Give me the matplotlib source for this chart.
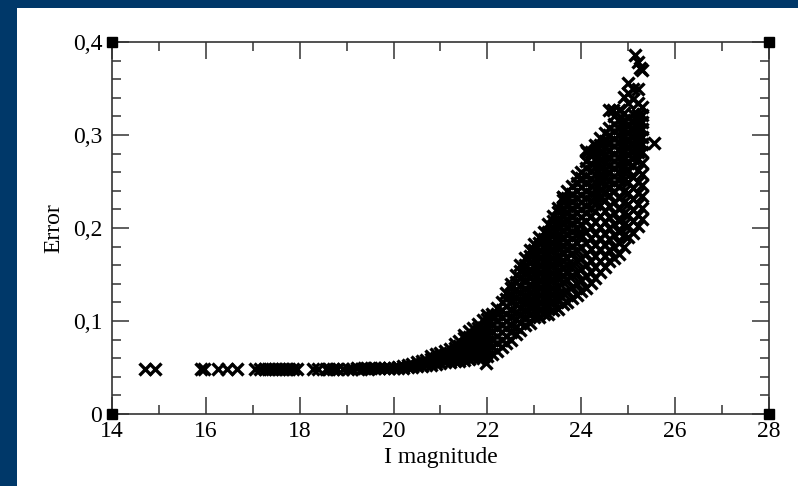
import matplotlib
matplotlib.use('Agg')
import matplotlib.pyplot as plt
from matplotlib.patches import Rectangle
from matplotlib.ticker import MultipleLocator

# bright end: constant floor of the error
flat_mag = [14.70, 14.92, 15.90, 15.95, 16.26, 16.45, 16.66, 17.05, 17.15, 17.25,
            17.32, 17.40, 17.48, 17.55, 17.62, 17.70, 17.78, 17.85, 17.95, 18.28,
            18.40, 18.55, 18.62, 18.70, 18.80, 18.92, 19.02, 19.12, 19.22, 19.30,
            19.38, 19.45, 19.52, 19.60]
flat_err = [0.048, 0.048, 0.048, 0.048, 0.048, 0.048, 0.048, 0.048, 0.048, 0.048,
            0.048, 0.048, 0.048, 0.048, 0.048, 0.048, 0.048, 0.048, 0.048, 0.048,
            0.048, 0.048, 0.048, 0.048, 0.048, 0.048, 0.048, 0.048, 0.049, 0.048,
            0.049, 0.048, 0.049, 0.049]

# knee and faint end, one column of errors (in units of 0.001) per magnitude
col_mag = [19.7, 19.8, 19.9, 20.0, 20.1, 20.2, 20.3, 20.4, 20.5, 20.6,
           20.7, 20.8, 20.9, 21.0, 21.1, 21.2, 21.3, 21.4, 21.5, 21.6,
           21.7, 21.8, 21.9, 22.0,
           22.1, 22.2, 22.3, 22.4, 22.5, 22.6, 22.7, 22.8, 22.9, 23.0,
           23.1, 23.2, 23.3, 23.4, 23.5, 23.6, 23.7, 23.8, 23.9, 24.0,
           24.1, 24.2, 24.3, 24.4, 24.5, 24.6, 24.7, 24.8, 24.9, 25.0,
           25.1, 25.2, 25.3]
col_err = [
    [49], [49], [49, 50], [50], [50, 51], [50, 52], [51, 53], [51, 54],
    [52, 56], [52, 57], [53, 58], [53, 59, 62], [54, 60, 64], [55, 61, 66],
    [56, 62, 68], [56, 63, 70], [57, 64, 71, 75], [57, 65, 73, 79],
    [58, 66, 74, 82, 85], [59, 67, 75, 83, 89], [60, 68, 76, 84, 92],
    [60, 68, 76, 84, 92, 97], [61, 69, 77, 85, 93, 101],
    [62, 70, 78, 86, 94, 102, 106],
    [64, 72, 80, 88, 96, 104, 108],
    [68, 76, 84, 92, 100, 108, 114],
    [72, 80, 88, 96, 104, 112, 120],
    [76, 84, 92, 100, 108, 116, 124, 130],
    [80, 88, 96, 104, 112, 120, 128, 136, 140],
    [86, 94, 102, 110, 118, 126, 134, 142, 150],
    [90, 98, 106, 114, 122, 130, 138, 146, 154, 160],
    [96, 104, 112, 120, 128, 136, 144, 152, 160, 168],
    [98, 106, 114, 122, 130, 138, 146, 154, 162, 170, 176],
    [104, 112, 120, 128, 136, 144, 152, 160, 168, 176, 183],
    [104, 112, 120, 128, 136, 144, 152, 160, 168, 176, 184, 190],
    [108, 116, 124, 132, 140, 148, 156, 164, 172, 180, 188, 196],
    [108, 116, 124, 132, 140, 148, 156, 164, 172, 180, 188, 196, 204],
    [112, 120, 128, 136, 144, 152, 160, 168, 176, 184, 192, 200, 208, 213],
    [113, 121, 129, 137, 145, 153, 161, 169, 177, 185, 193, 201, 209, 217, 222],
    [118, 130, 142, 150, 158, 166, 174, 182, 190, 198, 206, 214, 222, 230, 233],
    [120, 132, 144, 152, 160, 168, 176, 184, 192, 200, 208, 216, 224, 232, 240],
    [125, 137, 149, 161, 173, 181, 189, 197, 205, 213, 221, 229, 237, 245],
    [128, 140, 152, 164, 176, 184, 192, 200, 208, 216, 224, 232, 240, 248, 256],
    [132, 144, 156, 168, 180, 192, 204, 212, 220, 228, 236, 244, 252, 260],
    [136, 148, 160, 172, 184, 196, 208, 216, 224, 232, 240, 248, 256, 264, 272, 284],
    [141, 153, 165, 177, 189, 201, 213, 221, 229, 237, 245, 253, 261, 269, 277, 282],
    [146, 158, 170, 182, 194, 206, 218, 226, 234, 242, 250, 258, 266, 274, 282, 289],
    [153, 165, 177, 189, 201, 213, 225, 233, 241, 249, 257, 265, 273, 281, 289, 297],
    [158, 170, 182, 194, 206, 218, 230, 238, 246, 254, 262, 270, 278, 286, 294, 302],
    [164, 176, 188, 200, 212, 224, 236, 244, 252, 260, 268, 276, 284, 292, 300, 308, 327],
    [168, 180, 192, 204, 216, 228, 240, 248, 256, 264, 272, 280, 288, 296, 304, 312, 320],
    [172, 184, 196, 208, 220, 232, 244, 252, 260, 268, 276, 284, 292, 300, 308, 316, 327],
    [180, 192, 204, 216, 228, 240, 252, 260, 268, 276, 284, 292, 300, 308, 316, 324, 341],
    [190, 202, 214, 226, 238, 250, 262, 270, 278, 286, 294, 302, 310, 318, 334, 345, 356],
    [195, 207, 219, 231, 243, 255, 267, 275, 283, 291, 299, 307, 315, 323, 339, 350],
    [202, 214, 226, 238, 250, 262, 274, 282, 290, 298, 306, 314, 322, 334, 350, 378],
    [210, 222, 234, 246, 258, 270, 282, 290, 298, 306, 314, 322, 330, 370],
]

# isolated points
extra_mag = [21.97, 23.60, 24.00, 24.12, 24.33, 24.67, 25.15, 25.25, 25.55]
extra_err = [0.055, 0.233, 0.254, 0.282, 0.287, 0.327, 0.386, 0.372, 0.291]

x_ticks = [14, 16, 18, 20, 22, 24, 26, 28]
y_ticks = [0, 0.1, 0.2, 0.3, 0.4]
y_tick_labels = ['0', '0,1', '0,2', '0,3', '0,4']

W, H = 798, 486
fig = plt.figure(figsize=(W / 100, H / 100), dpi=100, facecolor='white')
blue = '#003869'
fig.patches.append(Rectangle((0, 0), 17 / W, 1, transform=fig.transFigure,
                             facecolor=blue, edgecolor='none', zorder=-10))
fig.patches.append(Rectangle((0, 1 - 8 / H), 1, 8 / H, transform=fig.transFigure,
                             facecolor=blue, edgecolor='none', zorder=-10))

ax = fig.add_axes([112 / W, (H - 414) / H, 657 / W, 372 / H])

all_mag = flat_mag + extra_mag
all_err = flat_err + extra_err
for m, col in zip(col_mag, col_err):
    all_mag += [m] * len(col)
    all_err += [e / 1000 for e in col]

ax.plot(all_mag, all_err, ls='none', marker='x', color='black', ms=8, mew=2.4)

# little black squares at the corners of the frame
ax.plot([14, 28, 14, 28], [0, 0, 0.4, 0.4], ls='none', marker='s', color='black',
        ms=7.5, clip_on=False, zorder=5)

ax.set_xlim(14, 28)
ax.set_ylim(0, 0.4)
ax.set_xticks(x_ticks)
ax.set_yticks(y_ticks)
ax.set_yticklabels(y_tick_labels)
ax.xaxis.set_minor_locator(MultipleLocator(1))
ax.yaxis.set_minor_locator(MultipleLocator(0.02))

for s in ax.spines.values():
    s.set_color('#333333')
    s.set_linewidth(1.2)

ax.tick_params(which='both', direction='in', top=True, right=True, color='#333333', width=1.1)
ax.tick_params(which='major', length=12.5)
ax.tick_params(which='minor', length=6.5)
ax.tick_params(axis='x', pad=5, labelsize=17)
ax.tick_params(axis='y', pad=7, labelsize=17)
for lab in ax.get_xticklabels() + ax.get_yticklabels():
    lab.set_family('Liberation Serif')

ax.set_xlabel('I magnitude', family='Liberation Serif', fontsize=17)
ax.set_ylabel('Error', family='Liberation Serif', fontsize=17)
ax.xaxis.set_label_coords(0.5, -0.088)
ax.yaxis.set_label_coords(-0.072, 0.5)

fig.savefig('out.png', dpi=100, facecolor=fig.get_facecolor())
